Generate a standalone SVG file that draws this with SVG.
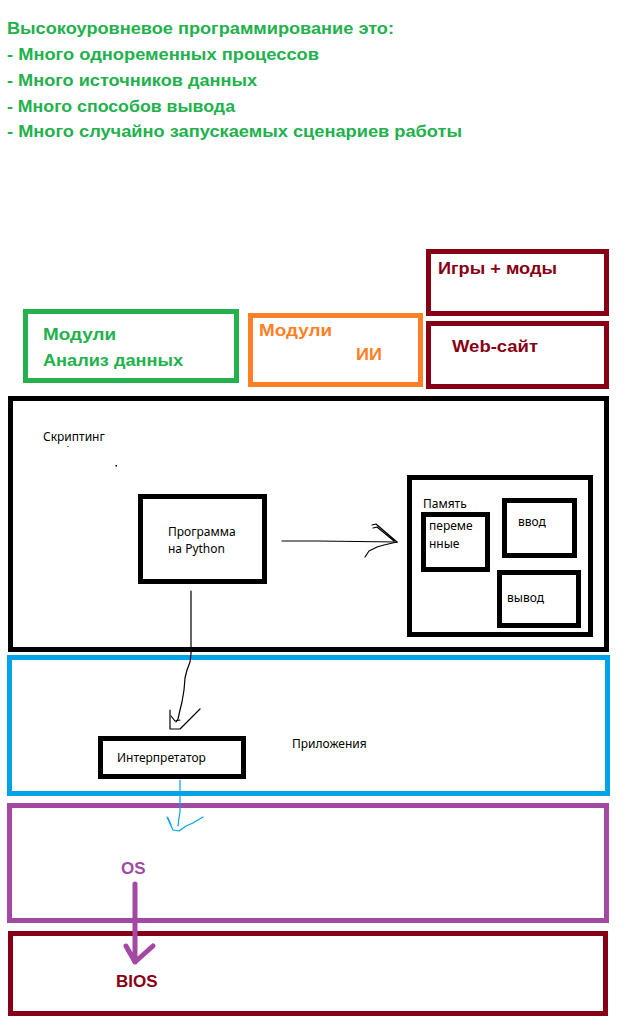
<svg xmlns="http://www.w3.org/2000/svg" width="628" height="1026" viewBox="0 0 628 1026">
<style>
.title{font-family:"Liberation Sans",Arial,sans-serif;font-weight:bold;font-size:17px;fill:#22b14c}
.bold{font-family:"Liberation Sans",Arial,sans-serif;font-weight:bold;font-size:17px}
.reg{font-family:"Noto Sans","Open Sans",sans-serif;font-size:12px;fill:#000}
.box{fill:none;stroke-width:5}
.k{stroke:#000}
.hand{fill:none;stroke-width:1.2;stroke-linejoin:round;stroke-linecap:round}
</style>
<rect width="628" height="1026" fill="#fff"/>
<g id="title">
<text class="title" x="7" y="34" textLength="387" lengthAdjust="spacingAndGlyphs">Высокоуровневое программирование это:</text>
<text class="title" x="7" y="60" textLength="312" lengthAdjust="spacingAndGlyphs">- Много одноременных процессов</text>
<text class="title" x="7" y="86" textLength="250" lengthAdjust="spacingAndGlyphs">- Много источников данных</text>
<text class="title" x="7" y="112" textLength="228" lengthAdjust="spacingAndGlyphs">- Много способов вывода</text>
<text class="title" x="7" y="137" textLength="455" lengthAdjust="spacingAndGlyphs">- Много случайно запускаемых сценариев работы</text>
</g>
<g id="games">
<rect class="box" x="428.5" y="251.5" width="178" height="62" stroke="#880015"/>
<text class="bold" x="438" y="274" fill="#880015" textLength="119" lengthAdjust="spacingAndGlyphs">Игры + моды</text>
</g>
<g id="website">
<rect class="box" x="428.5" y="323.5" width="178" height="63" stroke="#880015"/>
<text class="bold" x="452" y="352" fill="#880015" textLength="86" lengthAdjust="spacingAndGlyphs">Web-сайт</text>
</g>
<g id="modules-data">
<rect class="box" x="25.5" y="311.5" width="211" height="69" stroke="#22b14c"/>
<text class="bold" x="43" y="340" fill="#22b14c" textLength="73" lengthAdjust="spacingAndGlyphs">Модули</text>
<text class="bold" x="43" y="366" fill="#22b14c" textLength="140" lengthAdjust="spacingAndGlyphs">Анализ данных</text>
</g>
<g id="modules-ai">
<rect class="box" x="250.5" y="315.5" width="170" height="69" stroke="#ff7f27"/>
<text class="bold" x="259" y="336" fill="#ff7f27" textLength="73" lengthAdjust="spacingAndGlyphs">Модули</text>
<text class="bold" x="356" y="360" fill="#ff7f27" textLength="26" lengthAdjust="spacingAndGlyphs">ИИ</text>
</g>
<g id="scripting">
<rect class="box k" x="10.5" y="398.5" width="596" height="251"/>
<text class="reg" x="43" y="441" font-size="13">Скриптинг</text>
<rect x="67.5" y="446" width="1" height="1" fill="#000"/>
<rect x="115.5" y="465" width="1.5" height="1.5" fill="#000"/>
</g>
<g id="program">
<rect class="box k" x="140.5" y="496.5" width="124" height="85"/>
<text class="reg" x="168" y="536">Программа</text>
<text class="reg" x="168" y="553">на Python</text>
</g>
<g id="memory">
<rect class="box k" x="409.5" y="477.5" width="181" height="157"/>
<text class="reg" x="423" y="508">Память</text>
</g>
<g id="variables">
<rect class="box k" x="423.5" y="514.5" width="64" height="55"/>
<text class="reg" x="429" y="530">переме</text>
<text class="reg" x="429" y="548">нные</text>
</g>
<g id="input">
<rect class="box k" x="504.5" y="500.5" width="70" height="55"/>
<text class="reg" x="518" y="526">ввод</text>
</g>
<g id="output">
<rect class="box k" x="499.5" y="572.5" width="79" height="53"/>
<text class="reg" x="507" y="602">вывод</text>
</g>
<g id="applications">
<rect class="box" x="9.5" y="657.5" width="598" height="136" stroke="#00a2e8"/>
<text class="reg" x="292" y="748" font-size="13">Приложения</text>
</g>
<g id="interpreter">
<rect class="box k" x="100.5" y="738.5" width="143" height="38"/>
<text class="reg" x="117" y="762" font-size="13">Интерпретатор</text>
</g>
<g id="os">
<rect class="box" x="9.5" y="805.5" width="597" height="115" stroke="#a349a4"/>
<text class="bold" x="121" y="874" fill="#a349a4">OS</text>
</g>
<g id="bios">
<rect class="box" x="10.5" y="933.5" width="595" height="80" stroke="#880015"/>
<text class="bold" x="116" y="987" fill="#880015">BIOS</text>
</g>
<g id="connectors">
<path class="hand" stroke="#000" d="M282,541 L318,541 L397,542"/>
<path class="hand" stroke="#000" d="M372,525 L376,524 L397,542 M373,528 L377,527 L394,541"/>
<path class="hand" stroke="#000" d="M365,557 L369,551 L377,547 L384,545 L397,542"/>
<path class="hand" stroke="#000" d="M191,591 L191,654 L190,662 L187,670 L185,678 L184,690 L182,702 L180,710 L178,719 L176,722"/>
<path class="hand" stroke="#000" d="M170,710 L170,729 L180,729 L186,723 L193,716 L200,709"/>
<path class="hand" stroke="#000" d="M171,716 L175,721 L180,720"/>
<path class="hand" stroke="#00a2e8" d="M180,780 L180,812 L179,818 L178,826"/>
<path class="hand" stroke="#00a2e8" d="M167,817 L173,830 L179,831 L186,826 L193,823 L203,817"/>
<path class="hand" stroke="#00a2e8" d="M168,818 L171,825"/>
<path fill="none" stroke="#a349a4" stroke-width="5" stroke-linecap="round" stroke-linejoin="round" d="M135,884 L135,962 M126,946 L135,962 L153,946"/>
</g>
</svg>
